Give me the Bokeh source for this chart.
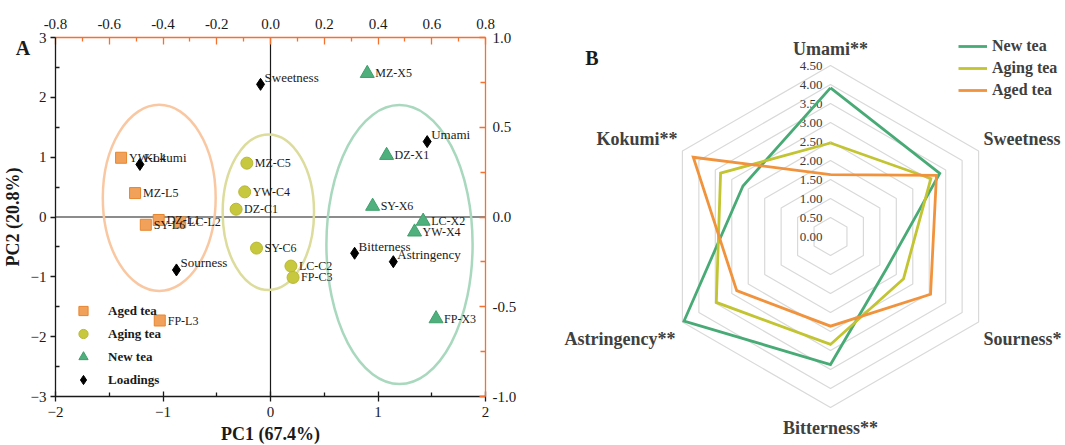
import numpy as np
from bokeh.plotting import figure
from bokeh.models import (Range1d, LinearAxis, FixedTicker, PrintfTickFormatter, Legend, LegendItem)
from bokeh.core.properties import value
from bokeh.embed import file_html
from bokeh.resources import INLINE

SERIF = "Liberation Serif"
ORANGE = "#f5712f"
INK = "#1a1a1a"

# ---------------- Panel A data (PCA) ----------------
aged_names = ["YW-L4", "MZ-L5", "DZ-L1", "SY-L6", "LC-L2", "FP-L3"]
aged_pc1 = [-1.39, -1.26, -1.04, -1.16, -0.84, -1.03]
aged_pc2 = [0.99, 0.40, -0.05, -0.13, -0.09, -1.73]

aging_names = ["MZ-C5", "YW-C4", "DZ-C1", "SY-C6", "LC-C2", "FP-C3"]
aging_pc1 = [-0.22, -0.24, -0.32, -0.13, 0.19, 0.21]
aging_pc2 = [0.90, 0.42, 0.13, -0.52, -0.82, -1.01]

new_names = ["MZ-X5", "DZ-X1", "SY-X6", "LC-X2", "YW-X4", "FP-X3"]
new_pc1 = [0.90, 1.08, 0.95, 1.42, 1.34, 1.54]
new_pc2 = [2.40, 1.03, 0.18, -0.07, -0.25, -1.70]

load_names = ["Sweetness", "Umami", "Kokumi", "Bitterness", "Astringency", "Sourness"]
load_x = [-0.037, 0.583, -0.486, 0.313, 0.457, -0.350]
load_y = [0.739, 0.420, 0.293, -0.202, -0.249, -0.295]

# confidence ellipses: aged, aging, new
ell_cx = [-1.035, -0.02, 1.20]
ell_cy = [0.32, 0.08, -0.46]
ell_w = [1.05, 0.85, 1.36]
ell_h = [3.11, 2.60, 4.66]
ell_colors = ["#f9c8a2", "#dcdc9c", "#a8d8bd"]

PC1_LIM = (-2, 2)
PC2_LIM = (-3, 3)
LOADX_LIM = (-0.8, 0.8)
LOADY_LIM = (-1.0, 1.0)
bottom_ticks = [-2, -1, 0, 1, 2]
bottom_minor = [-1.5, -0.5, 0.5, 1.5]
left_ticks = [-3, -2, -1, 0, 1, 2, 3]
left_minor = [-2.5, -1.5, -0.5, 0.5, 1.5, 2.5]
top_ticks = [-0.8, -0.6, -0.4, -0.2, 0.0, 0.2, 0.4, 0.6, 0.8]
top_minor = [-0.7, -0.5, -0.3, -0.1, 0.1, 0.3, 0.5, 0.7]
right_ticks = [-1.0, -0.5, 0.0, 0.5, 1.0]
right_minor = [-0.75, -0.25, 0.25, 0.75]

# ---------------- Panel B data (radar) ----------------
cats = ["Umami**", "Sweetness", "Sourness*", "Bitterness**", "Astringency**", "Kokumi**"]
new_tea = [3.91, 3.32, 1.70, 3.37, 4.45, 2.66]
aging_tea = [2.46, 3.05, 2.22, 2.84, 3.47, 3.34]
aged_tea = [1.63, 3.22, 3.04, 2.36, 2.85, 4.17]
levels = [0.0, 0.5, 1.0, 1.5, 2.0, 2.5, 3.0, 3.5, 4.0, 4.5]
level_labels = ["0.00", "0.50", "1.00", "1.50", "2.00", "2.50", "3.00", "3.50", "4.00", "4.50"]

# ---------------- layout (pixels inside the single canvas) ----------------
FIG_W, FIG_H = 1065, 445
PCA_L, PCA_R, PCA_T, PCA_B = 55, 485, 37, 396
SX = (PCA_R - PCA_L) / (PC1_LIM[1] - PC1_LIM[0])
SY = (PCA_B - PCA_T) / (PC2_LIM[1] - PC2_LIM[0])
TX = (PCA_R - PCA_L) / (LOADX_LIM[1] - LOADX_LIM[0])
TY = (PCA_B - PCA_T) / (LOADY_LIM[1] - LOADY_LIM[0])
RC_X, RC_Y, PX = 830, 236, 38.0   # radar centre and pixels per unit


def fx(px):  # canvas px -> PC1 data
    return PC1_LIM[0] + (px - PCA_L) / SX


def fy(py):  # canvas px (from top) -> PC2 data
    return PC2_LIM[1] - (py - PCA_T) / SY


def rx(px):
    return (px - RC_X) / PX


def ry(py):
    return (RC_Y - py) / PX


p = figure(width=FIG_W, height=FIG_H, min_border=0,
           x_range=Range1d(fx(0), fx(FIG_W)), y_range=Range1d(fy(FIG_H), fy(0)),
           x_axis_type=None, y_axis_type=None, output_backend="svg",
           toolbar_location=None, title=None)
p.extra_x_ranges = {
    "top": Range1d(LOADX_LIM[0] - PCA_L / TX, LOADX_LIM[1] + (FIG_W - PCA_R) / TX),
    "rx": Range1d(rx(0), rx(FIG_W)),
}
p.extra_y_ranges = {
    "right": Range1d(LOADY_LIM[0] - (FIG_H - PCA_B) / TY, LOADY_LIM[1] + PCA_T / TY),
    "ry": Range1d(ry(FIG_H), ry(0)),
}
p.grid.visible = False
p.outline_line_color = None
p.background_fill_color = "white"
p.border_fill_color = "white"

# ---- PCA axes (fixed in place, bounded to the PCA box) ----
bx = LinearAxis(fixed_location=PC2_LIM[0], bounds=PC1_LIM,
                ticker=FixedTicker(ticks=bottom_ticks, minor_ticks=bottom_minor))
ly = LinearAxis(fixed_location=PC1_LIM[0], bounds=PC2_LIM,
                ticker=FixedTicker(ticks=left_ticks, minor_ticks=left_minor))
top_ax = LinearAxis(x_range_name="top", fixed_location=PC2_LIM[1], bounds=LOADX_LIM,
                    ticker=FixedTicker(ticks=top_ticks, minor_ticks=top_minor),
                    formatter=PrintfTickFormatter(format="%.1f"))
right_ax = LinearAxis(y_range_name="right", fixed_location=PC1_LIM[1], bounds=LOADY_LIM,
                      ticker=FixedTicker(ticks=right_ticks, minor_ticks=right_minor),
                      formatter=PrintfTickFormatter(format="%.1f"))
p.add_layout(bx, "below")
p.add_layout(ly, "left")
p.add_layout(top_ax, "above")
p.add_layout(right_ax, "right")

for ax in [bx, ly, top_ax, right_ax]:
    ax.major_label_text_font = SERIF
    ax.major_label_text_font_size = "15px"
    ax.major_label_text_color = INK
    ax.axis_line_width = 1.3
    ax.major_tick_line_width = 1.3
    ax.minor_tick_line_width = 1.3
    ax.axis_label_text_font = SERIF
    ax.axis_label_text_font_style = "bold"
    ax.axis_label_text_font_size = "18px"
    ax.axis_label_text_color = INK
for ax in [bx, ly]:
    ax.axis_line_color = INK
    ax.major_tick_line_color = INK
    ax.minor_tick_line_color = INK
for ax in [top_ax, right_ax]:
    ax.axis_line_color = ORANGE
    ax.major_tick_line_color = ORANGE
    ax.minor_tick_line_color = ORANGE

bx.major_label_standoff = 5
ly.major_label_standoff = 4
top_ax.major_label_standoff = 9
right_ax.major_label_standoff = 7

bx.major_tick_in, bx.major_tick_out, bx.minor_tick_in, bx.minor_tick_out = 5, 5, 4, 0
ly.major_tick_in, ly.major_tick_out, ly.minor_tick_in, ly.minor_tick_out = 0, 5, 4, 0
top_ax.major_tick_in, top_ax.major_tick_out, top_ax.minor_tick_in, top_ax.minor_tick_out = 7, 0, 4, 0
right_ax.major_tick_in, right_ax.major_tick_out, right_ax.minor_tick_in, right_ax.minor_tick_out = 6, 0, 5, 0

bx.axis_label = "PC1 (67.4%)"
bx.axis_label_standoff = 4
ly.axis_label = "PC2 (20.8%)"
ly.axis_label_standoff = 5

# zero lines across the PCA box
p.segment(x0=[PC1_LIM[0], 0], y0=[0, PC2_LIM[0]], x1=[PC1_LIM[1], 0], y1=[0, PC2_LIM[1]],
          line_color=INK, line_width=1.2)

p.ellipse(x=ell_cx, y=ell_cy, width=ell_w, height=ell_h, fill_color=None,
          line_color=ell_colors, line_width=2.5)

r_aged = p.scatter(aged_pc1, aged_pc2, marker="square", size=11, fill_color="#f2a15a",
                   line_color="#e6862f", line_width=1)
r_aging = p.scatter(aging_pc1, aging_pc2, marker="circle", size=12, fill_color="#c8c83e",
                    line_color="#b8b833", line_width=1)
r_new = p.scatter(new_pc1, new_pc2, marker="triangle", size=14, fill_color="#4fb07d",
                  line_color="#3f9f6c", line_width=1)
r_load = p.scatter(load_x, load_y, marker="diamond", size=12, fill_color="black",
                   line_color="black", x_range_name="top", y_range_name="right")

for xs, ys, names in [(aged_pc1, aged_pc2, aged_names), (aging_pc1, aging_pc2, aging_names),
                      (new_pc1, new_pc2, new_names)]:
    p.text(xs, ys, text=names, x_offset=8, text_baseline="middle", text_align="left",
           text_font=value(SERIF), text_font_size="12px", text_color=INK)
p.text(load_x, load_y, text=load_names, x_offset=4, y_offset=-7, text_baseline="middle",
       text_align="left", text_font=value(SERIF), text_font_size="13px", text_color=INK,
       x_range_name="top", y_range_name="right")

legend_a = Legend(items=[LegendItem(label="Aged tea", renderers=[r_aged]),
                         LegendItem(label="Aging tea", renderers=[r_aging]),
                         LegendItem(label="New tea", renderers=[r_new]),
                         LegendItem(label="Loadings", renderers=[r_load])],
                  location=(69, 54), glyph_width=28, glyph_height=23, label_height=23,
                  spacing=0, padding=0, margin=0, label_standoff=11,
                  border_line_color=None, background_fill_alpha=0,
                  label_text_font=SERIF, label_text_font_style="bold",
                  label_text_font_size="13px", label_text_color=INK)
p.add_layout(legend_a)

p.text([fx(22.5)], [fy(47)], text=["A"], text_align="center", text_baseline="middle",
       text_font=value(SERIF), text_font_style="bold", text_font_size="20px", text_color=INK)

# ================= Panel B : radar =================
ang = np.deg2rad(90 - 60 * np.arange(len(cats)))
cosA, sinA = np.cos(ang), np.sin(ang)
ring_xs = [list(np.append(lv * cosA, lv * cosA[0])) for lv in levels[1:]]
ring_ys = [list(np.append(lv * sinA, lv * sinA[0])) for lv in levels[1:]]
p.multi_line(ring_xs, ring_ys, line_color="#d9d9d9", line_width=1.2,
             x_range_name="rx", y_range_name="ry")

p.text([0] * len(levels), levels, text=level_labels, x_offset=-8, text_align="right",
       text_baseline="middle", text_font=value(SERIF), text_font_size="13px", text_color="#3a3a3a",
       x_range_name="rx", y_range_name="ry")

series = [("New tea", new_tea, "#48ab76"), ("Aging tea", aging_tea, "#c2c431"),
          ("Aged tea", aged_tea, "#f0933c")]
items = []
for name, vals, col in series:
    v = np.array(vals)
    xs = list(np.append(v * cosA, v[0] * cosA[0]))
    ys = list(np.append(v * sinA, v[0] * sinA[0]))
    r = p.line(xs, ys, line_color=col, line_width=2.8, line_join="miter",
               x_range_name="rx", y_range_name="ry")
    items.append(LegendItem(label=name, renderers=[r]))

R = levels[-1]
lab_align = ["center", "left", "left", "center", "right", "right"]
lab_dx = [0, 5, 5, 0, -7, -5]
lab_dy = [-17, -12, 17, 20, 17, -12]
for i, c in enumerate(cats):
    p.text([R * cosA[i]], [R * sinA[i]], text=[c], x_offset=lab_dx[i], y_offset=lab_dy[i],
           text_align=lab_align[i], text_baseline="middle", text_font=value(SERIF),
           text_font_style="bold", text_font_size="18px", text_color="#404040",
           x_range_name="rx", y_range_name="ry")

legend_b = Legend(items=items, location=(958, 344), glyph_width=29, glyph_height=22,
                  label_height=22, spacing=0, padding=0, margin=0, label_standoff=5,
                  border_line_color=None, background_fill_alpha=0, label_text_font=SERIF,
                  label_text_font_style="bold", label_text_font_size="16px",
                  label_text_color="#404040")
p.add_layout(legend_b)

p.text([rx(591.5)], [ry(57)], text=["B"], text_align="center", text_baseline="middle",
       text_font=value(SERIF), text_font_style="bold", text_font_size="20px", text_color=INK,
       x_range_name="rx", y_range_name="ry")

open("out.html", "w").write(file_html(p, INLINE))
